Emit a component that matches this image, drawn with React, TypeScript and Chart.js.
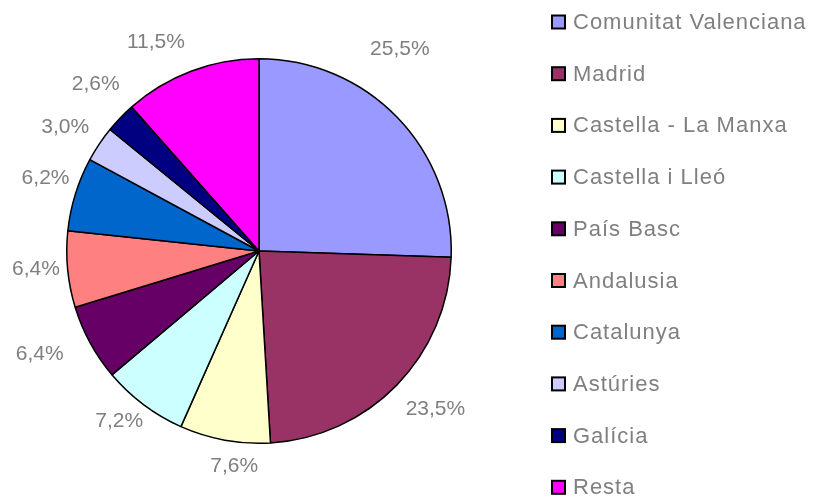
import React, { useEffect, useRef } from 'react';
import { Chart, registerables } from 'chart.js';

Chart.register(...registerables);

const regions = [
  'Comunitat Valenciana',
  'Madrid',
  'Castella - La Manxa',
  'Castella i Lleó',
  'País Basc',
  'Andalusia',
  'Catalunya',
  'Astúries',
  'Galícia',
  'Resta',
];
const shares = [25.5, 23.5, 7.6, 7.2, 6.4, 6.4, 6.2, 3.0, 2.6, 11.5];
const percentLabels = ['25,5%', '23,5%', '7,6%', '7,2%', '6,4%', '6,4%', '6,2%', '3,0%', '2,6%', '11,5%'];
const sliceColors = ['#9999FF', '#993366', '#FFFFCC', '#CCFFFF', '#660066', '#FF8080', '#0066CC', '#CCCCFF', '#000080', '#FF00FF'];

// label layout tweaks (Excel "best fit" placement), degrees / px
const LABEL_ANGLE_NUDGE = [-11, -2.4, -3.7, 2.4, 3.4, 0.8, 1.6, -1.3, 1.8, -5.5];
const LABEL_RADIAL_NUDGE = [20, 7, 4, -3, 15, -3, -2, 3, 9, 11];

const TEXT_COLOR = '#7f7f7f';
const FONT = '"Liberation Sans", Arial, sans-serif';

const sliceLabelPlugin = {
  id: 'sliceLabels',
  afterDatasetsDraw(chart: any) {
    const ctx = chart.ctx as CanvasRenderingContext2D;
    const meta = chart.getDatasetMeta(0);
    const labels = chart.data.datasets[0].percentLabels as string[];
    ctx.save();
    ctx.font = `21px ${FONT}`;
    ctx.fillStyle = TEXT_COLOR;
    ctx.textAlign = 'center';
    ctx.textBaseline = 'middle';
    meta.data.forEach((arc: any, i: number) => {
      const { x, y, startAngle, endAngle, outerRadius } = arc.getProps(
        ['x', 'y', 'startAngle', 'endAngle', 'outerRadius'],
        true
      );
      const a = (startAngle + endAngle) / 2 + (LABEL_ANGLE_NUDGE[i] * Math.PI) / 180;
      const text = labels[i];
      const w = ctx.measureText(text).width;
      const h = 16;
      const c = Math.cos(a);
      const s = Math.sin(a);
      const d = outerRadius + 10 + (Math.abs(c) * w) / 2 + (Math.abs(s) * h) / 2 + LABEL_RADIAL_NUDGE[i];
      ctx.fillText(text, x + c * d, y + s * d);
    });
    ctx.restore();
  },
};

const legendPlugin = {
  id: 'customLegend',
  afterDraw(chart: any) {
    const ctx = chart.ctx as CanvasRenderingContext2D;
    const names = chart.data.labels as string[];
    const colors = chart.data.datasets[0].backgroundColor as string[];
    const boxX = 552;
    const textX = 573;
    const top = 22;
    const step = 51.7;
    const box = 13;
    ctx.save();
    ctx.font = `22px ${FONT}`;
    (ctx as any).letterSpacing = '1px';
    ctx.textAlign = 'left';
    ctx.textBaseline = 'middle';
    names.forEach((name, i) => {
      const cy = top + i * step;
      ctx.fillStyle = colors[i];
      ctx.fillRect(boxX, cy - box / 2, box, box);
      ctx.strokeStyle = '#000';
      ctx.lineWidth = 2;
      ctx.strokeRect(boxX, cy - box / 2, box, box);
      ctx.fillStyle = TEXT_COLOR;
      ctx.fillText(name, textX, cy + 1);
    });
    ctx.restore();
  },
};

export default function App() {
  const canvasRef = useRef<HTMLCanvasElement | null>(null);

  useEffect(() => {
    if (!canvasRef.current) return;
    const chart = new Chart(canvasRef.current, {
      type: 'pie',
      data: {
        labels: regions,
        datasets: [
          {
            data: shares,
            backgroundColor: sliceColors,
            borderColor: '#000000',
            borderWidth: 1.5,
            percentLabels,
          } as any,
        ],
      },
      options: {
        responsive: false,
        animation: false,
        layout: { padding: { left: 66, right: 363, top: 58, bottom: 53 } },
        plugins: {
          legend: { display: false },
          tooltip: { enabled: false },
        },
      },
      plugins: [sliceLabelPlugin, legendPlugin],
    });
    return () => chart.destroy();
  }, []);

  return (
    <div style={{ position: 'fixed', left: 0, top: 0, width: 815, height: 497, background: '#fff' }}>
      <canvas ref={canvasRef} width={815} height={497} style={{ width: 815, height: 497, display: 'block' }} />
    </div>
  );
}
